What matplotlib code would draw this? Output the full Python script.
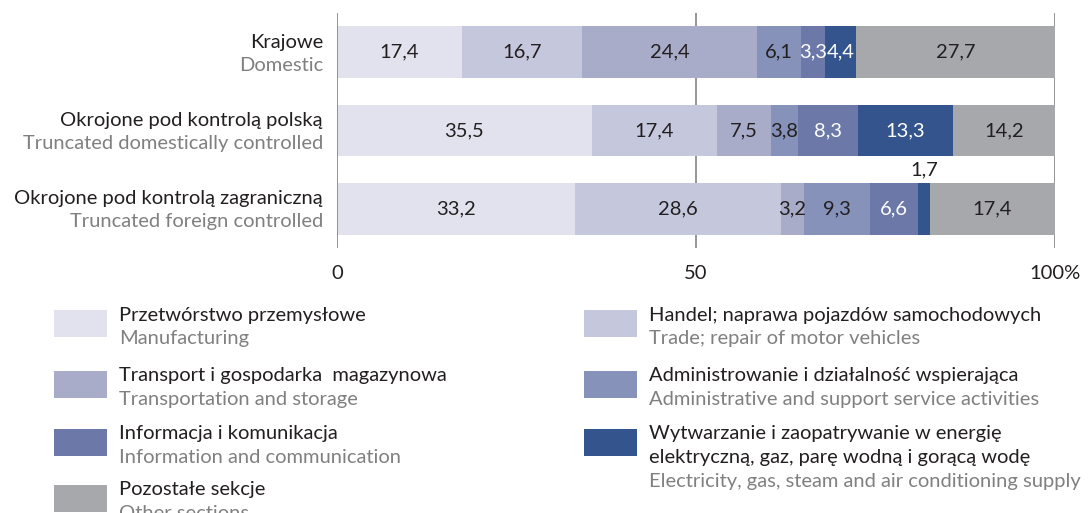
import numpy as np
import matplotlib.pyplot as plt
from matplotlib.patches import Rectangle

plt.rcParams['font.family'] = ['Lato', 'DejaVu Sans']

groups_pl = ["Krajowe", "Okrojone pod kontrolą polską", "Okrojone pod kontrolą zagraniczną"]
groups_en = ["Domestic", "Truncated domestically controlled", "Truncated foreign controlled"]

sections_pl = ["Przetwórstwo przemysłowe",
               "Handel; naprawa pojazdów samochodowych",
               "Transport i gospodarka  magazynowa",
               "Administrowanie i działalność wspierająca",
               "Informacja i komunikacja",
               "Wytwarzanie i zaopatrywanie w energię\nelektryczną, gaz, parę wodną i gorącą wodę",
               "Pozostałe sekcje"]
sections_en = ["Manufacturing",
               "Trade; repair of motor vehicles",
               "Transportation and storage",
               "Administrative and support service activities",
               "Information and communication",
               "Electricity, gas, steam and air conditioning supply",
               "Other sections"]

domestic = [17.4, 16.7, 24.4, 6.1, 3.3, 4.4, 27.7]
trunc_domestic = [35.5, 17.4, 7.5, 3.8, 8.3, 13.3, 14.2]
trunc_foreign = [33.2, 28.6, 3.2, 9.3, 6.6, 1.7, 17.4]

colors = ["#e2e2ee", "#c5c8dd", "#a8acc9", "#8792ba", "#6b78a8", "#34548e", "#a7a8ab"]
text_colors = ["#231f20", "#231f20", "#231f20", "#231f20", "white", "white", "#231f20"]

W, H = 1089, 513
fig = plt.figure(figsize=(W / 100, H / 100), dpi=100)
ax = fig.add_axes([337 / W, 1 - 248 / H, 718 / W, 235 / H])

data = np.array([domestic, trunc_domestic, trunc_foreign])
ypos = np.arange(len(groups_pl))
fs = 14.5

for g in (50, 100):
    ax.axvline(g, color="#8c8c8c", lw=1.3, zorder=0)
ax.axvline(0, color="#8c8c8c", lw=1.3, zorder=3)

left = np.zeros(len(ypos))
for j in range(data.shape[1]):
    vals = data[:, j]
    ax.barh(ypos, vals, left=left, height=0.66, color=colors[j], zorder=2)
    for i, v in enumerate(vals):
        lab = f"{v:.1f}".replace(".", ",")
        if v < 2:
            # too narrow, label goes above the bar
            ax.text(left[i] + v / 2, ypos[i] - 0.5, lab, ha="center", va="center",
                    fontsize=fs, color="#231f20")
        else:
            ax.text(left[i] + v / 2, ypos[i], lab, ha="center", va="center",
                    fontsize=fs, color=text_colors[j], zorder=4)
    left += vals

ax.set_xlim(0, 100)
ax.set_ylim(2.5, -0.5)
ax.set_xticks([0, 50, 100])
ax.set_xticklabels(["0", "50", "100%"], fontsize=fs, color="#231f20")
ax.tick_params(axis="x", length=0, pad=12)
ax.set_yticks([])
for s in ax.spines.values():
    s.set_visible(False)

for i in ypos:
    ax.annotate(groups_pl[i], xy=(0, i), xycoords=("axes fraction", "data"),
                xytext=(-14, 10), textcoords="offset pixels", ha="right", va="center",
                fontsize=fs, color="#231f20")
    ax.annotate(groups_en[i], xy=(0, i), xycoords=("axes fraction", "data"),
                xytext=(-14, -13), textcoords="offset pixels", ha="right", va="center",
                fontsize=fs, color="#808080")

# legend, two columns drawn by hand
col_x = [54, 584]
row_y = [[310, 371, 429, 485], [310, 371, 429]]
order = [[0, 2, 4, 6], [1, 3, 5]]
for c in range(2):
    for r, k in enumerate(order[c]):
        top = row_y[c][r]
        fig.add_artist(Rectangle((col_x[c] / W, 1 - (top + 27) / H), 53 / W, 27 / H,
                                 transform=fig.transFigure, color=colors[k], lw=0))
        lines = sections_pl[k].split("\n")
        for n, t in enumerate(lines):
            fig.text((col_x[c] + 65) / W, 1 - (top + 5 + 23.5 * n) / H, t,
                     ha="left", va="center", fontsize=fs, color="#231f20")
        fig.text((col_x[c] + 65) / W, 1 - (top + 5 + 23.5 * len(lines)) / H, sections_en[k],
                 ha="left", va="center", fontsize=fs, color="#808080")

fig.savefig("out.png", dpi=100)
